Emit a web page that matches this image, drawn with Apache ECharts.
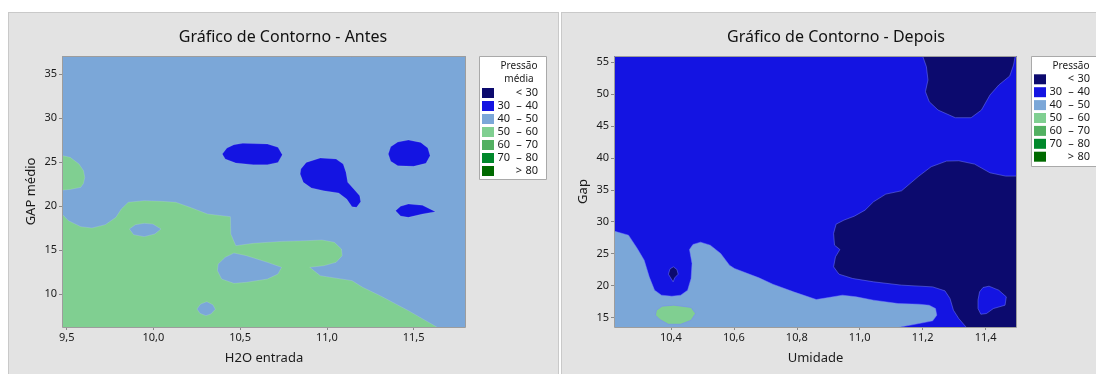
<!DOCTYPE html>
<html>
<head>
<meta charset="utf-8">
<script src="https://cdn.jsdelivr.net/npm/echarts@6/dist/echarts.min.js"></script>
<style>
  html, body { margin: 0; padding: 0; background: #fff; }
  .painel { position: absolute; top: 12px; height: 370px; background: #e3e3e3; border: 1px solid #c9c9c9; box-sizing: border-box; }
  #grafico { position: absolute; left: 0; top: 0; width: 1096px; height: 374px; }
</style>
</head>
<body>
<div class="painel" style="left:8px;width:551px"></div>
<div class="painel" style="left:561px;width:545px"></div>
<div id="grafico"></div>
<script>
// faixas de pressão (legenda)
const legendaDe = ['', '30', '40', '50', '60', '70', '']
const legendaSimb = ['<', '–', '–', '–', '–', '–', '>']
const legendaAte = ['30', '40', '50', '60', '70', '80', '80']
const coresNivel = ['#0c0a6e', '#1414e2', '#7ba7d8', '#80cf91', '#52b061', '#00882b', '#006a00']

// eixos
const xTicksAntes = [9.5, 10.0, 10.5, 11.0, 11.5]
const yTicksAntes = [10, 15, 20, 25, 30, 35]
const xTicksDepois = [10.4, 10.6, 10.8, 11.0, 11.2, 11.4]
const yTicksDepois = [15, 20, 25, 30, 35, 40, 45, 50, 55]

// ---- Antes: fundo 40-50 ----
const antesVerdeBase = [
  [9.45, 19.55], [9.510, 18.33], [9.581, 17.65], [9.646, 17.50], [9.723, 17.88], [9.784, 18.71],
  [9.815, 19.66], [9.855, 20.42], [9.947, 20.61], [10.048, 20.53], [10.129, 20.42], [10.211, 19.85],
  [10.312, 19.09], [10.444, 18.79], [10.446, 16.82], [10.475, 15.49], [10.576, 15.76], [10.739, 15.98],
  [10.881, 16.06], [10.972, 16.14], [11.043, 15.87], [11.084, 15.11], [11.088, 14.36], [11.053, 13.60],
  [10.982, 13.22], [10.901, 13.03], [10.962, 12.08], [11.145, 11.52], [11.206, 10.76], [11.307, 9.81],
  [11.470, 8.11], [11.655, 6.0], [9.45, 6.0]
]
const antesVerdeTopo = [
  [9.45, 25.83], [9.520, 25.53], [9.571, 24.77], [9.597, 24.02], [9.604, 23.26], [9.597, 22.58],
  [9.581, 22.12], [9.520, 21.89], [9.45, 21.74]
]
const antesOvalA = [
  [10.373, 13.41], [10.414, 14.17], [10.464, 14.66], [10.536, 14.36], [10.657, 13.60], [10.739, 13.03],
  [10.718, 12.27], [10.657, 11.70], [10.536, 11.33], [10.464, 11.21], [10.393, 11.70], [10.369, 12.65]
]
const antesOvalB = [
  [9.861, 17.39], [9.896, 17.88], [9.947, 18.03], [9.997, 17.95], [10.044, 17.39], [10.008, 16.82],
  [9.947, 16.52], [9.886, 16.74]
]
const antesOvalC = [
  [10.251, 8.30], [10.272, 8.86], [10.308, 9.13], [10.343, 8.77], [10.357, 8.26], [10.332, 7.73],
  [10.302, 7.54], [10.268, 7.80]
]
const antesAzul1 = [
  [10.397, 25.91], [10.424, 26.59], [10.464, 26.97], [10.515, 27.12], [10.657, 27.05], [10.718, 26.67],
  [10.743, 25.83], [10.718, 24.96], [10.657, 24.70], [10.576, 24.70], [10.475, 24.89], [10.414, 25.34]
]
const antesAzul2 = [
  [10.850, 24.20], [10.881, 24.96], [10.962, 25.45], [11.053, 25.34], [11.094, 24.77], [11.110, 23.83],
  [11.120, 22.69], [11.155, 21.93], [11.189, 21.17], [11.195, 20.49], [11.171, 19.85], [11.145, 19.92],
  [11.114, 20.80], [11.068, 21.48], [10.982, 21.74], [10.911, 22.05], [10.864, 22.69], [10.846, 23.64]
]
const antesAzul3 = [
  [11.354, 25.91], [11.368, 26.74], [11.409, 27.27], [11.470, 27.50], [11.541, 27.23], [11.582, 26.59],
  [11.595, 25.72], [11.571, 24.85], [11.500, 24.51], [11.409, 24.58], [11.368, 25.08]
]
const antesAzul4 = [
  [11.396, 19.47], [11.425, 19.96], [11.470, 20.23], [11.551, 20.08], [11.626, 19.36], [11.551, 19.09],
  [11.470, 18.71], [11.425, 18.86]
]
const antesAzul5 = [[11.12, 37.2], [11.16, 37.2], [11.14, 36.9]]

// ---- Depois: fundo 30-40 ----
const depoisEscuroTopo = [
  [11.199, 56.1], [11.212, 54.27], [11.217, 52.18], [11.209, 50.35], [11.221, 48.79], [11.249, 47.48],
  [11.304, 46.28], [11.354, 46.28], [11.387, 47.48], [11.414, 49.83], [11.442, 51.40], [11.477, 52.81],
  [11.489, 54.53], [11.495, 56.1]
]
const depoisEscuroBase = [
  [11.52, 37.14], [11.464, 37.14], [11.414, 37.66], [11.365, 39.02], [11.315, 39.54], [11.276, 39.49],
  [11.227, 38.60], [11.188, 37.14], [11.133, 34.84], [11.083, 34.32], [11.044, 33.12], [11.017, 31.81],
  [10.983, 30.87], [10.950, 30.25], [10.925, 29.62], [10.917, 28.16], [10.920, 26.33], [10.937, 25.65],
  [10.923, 24.50], [10.917, 22.94], [10.934, 21.79], [10.978, 21.11], [11.044, 20.59], [11.133, 20.07],
  [11.232, 19.80], [11.271, 19.18], [11.287, 17.98], [11.298, 16.15], [11.315, 14.84], [11.34, 13.4],
  [11.52, 13.4]
]
const depoisAzulIlha = [
  [11.376, 17.72], [11.381, 19.02], [11.392, 19.70], [11.411, 19.91], [11.442, 19.28], [11.466, 18.24],
  [11.462, 16.93], [11.425, 16.41], [11.403, 15.63], [11.385, 15.52], [11.376, 16.41]
]
const depoisClaro = [
  [10.2, 28.79], [10.265, 27.90], [10.293, 25.81], [10.315, 23.98], [10.331, 21.37], [10.348, 19.28],
  [10.370, 18.50], [10.403, 18.34], [10.431, 18.50], [10.453, 19.28], [10.464, 21.11], [10.467, 23.46],
  [10.459, 25.65], [10.470, 26.44], [10.494, 26.80], [10.525, 26.33], [10.558, 25.03], [10.586, 23.20],
  [10.602, 22.68], [10.680, 21.21], [10.724, 20.22], [10.790, 19.02], [10.862, 17.82], [10.901, 18.13],
  [10.945, 18.50], [10.989, 18.24], [11.044, 17.72], [11.122, 17.19], [11.188, 17.09], [11.221, 16.93],
  [11.241, 16.41], [11.245, 15.37], [11.232, 14.48], [11.188, 14.06], [11.133, 13.54], [11.12, 13.4],
  [10.2, 13.4]
]
const depoisEscuroPonto = [
  [10.392, 21.79], [10.397, 22.62], [10.408, 22.94], [10.419, 22.52], [10.423, 21.79], [10.412, 21.21],
  [10.407, 20.59], [10.399, 21.21]
]
const depoisVerde = [
  [10.354, 16.15], [10.372, 16.77], [10.409, 16.93], [10.464, 16.57], [10.478, 15.63], [10.464, 14.58],
  [10.431, 13.96], [10.392, 13.96], [10.365, 14.69], [10.351, 15.37]
]

// nível de cada região (índice em coresNivel)
const regioesAntes = [
  [3, antesVerdeBase], [3, antesVerdeTopo], [2, antesOvalA], [2, antesOvalB], [2, antesOvalC],
  [1, antesAzul1], [1, antesAzul2], [1, antesAzul3], [1, antesAzul4], [1, antesAzul5]
]
const regioesDepois = [
  [0, depoisEscuroTopo], [0, depoisEscuroBase], [1, depoisAzulIlha], [2, depoisClaro],
  [0, depoisEscuroPonto], [3, depoisVerde]
]

const fonte = '"Noto Sans", "Open Sans", sans-serif'
const grades = [
  { left: 62, top: 56, width: 404, height: 271 },
  { left: 614, top: 56, width: 403, height: 271 }
]

const chart = echarts.init(document.getElementById('grafico'))

const virgula = v => v.toFixed(1).replace('.', ',')

const eixoX = (idx, min, max, ticks, nome) => ({
  type: 'value', gridIndex: idx, min: min, max: max,
  name: nome, nameLocation: 'middle', nameGap: 25,
  nameTextStyle: { fontFamily: fonte, fontSize: 13, color: '#1a1a1a' },
  axisLine: { show: false },
  axisTick: { show: true, length: 3, customValues: ticks, lineStyle: { color: '#8a8a8a' } },
  axisLabel: { customValues: ticks, formatter: virgula, margin: 5, fontFamily: fonte, fontSize: 11, color: '#1a1a1a' },
  splitLine: { show: false }
})

const eixoY = (idx, min, max, ticks, nome) => ({
  type: 'value', gridIndex: idx, min: min, max: max,
  name: nome, nameLocation: 'middle', nameGap: 24, nameRotate: 90,
  nameTextStyle: { fontFamily: fonte, fontSize: 13, color: '#1a1a1a' },
  axisLine: { show: false },
  axisTick: { show: true, length: 3, customValues: ticks, lineStyle: { color: '#8a8a8a' } },
  axisLabel: { customValues: ticks, margin: 5, fontFamily: fonte, fontSize: 11, color: '#1a1a1a' },
  splitLine: { show: false }
})

const contorno = (idx, regioes, contornoCor) => ({
  type: 'custom',
  xAxisIndex: idx,
  yAxisIndex: idx,
  clip: true,
  silent: true,
  data: regioes.map((r, i) => [i]),
  encode: { x: -1, y: -1 },
  renderItem: (params, api) => {
    const r = regioes[params.dataIndex]
    return {
      type: 'polygon',
      z2: params.dataIndex,
      shape: { points: r[1].map(p => api.coord(p)) },
      style: { fill: coresNivel[r[0]], stroke: contornoCor, lineWidth: 0.8 }
    }
  }
})

// legenda desenhada como na figura original
const legenda = (x, y, w, h, cabecalho, cx, y0, passo) => {
  const els = [{
    type: 'rect', shape: { x: x + 0.5, y: y + 0.5, width: w, height: h },
    style: { fill: '#fff', stroke: '#a9a9a9', lineWidth: 1 }
  }]
  cabecalho.forEach((t, i) => els.push({
    type: 'text', x: cx, y: y + 10 + i * 13,
    style: { text: t, fontFamily: fonte, fontSize: 10, fill: '#1a1a1a', align: 'center', verticalAlign: 'middle' }
  }))
  coresNivel.forEach((c, i) => {
    const yy = y0 + i * passo
    els.push({ type: 'rect', shape: { x: x + 3, y: yy - 5, width: 12, height: 10 }, style: { fill: c } })
    const base = { fontFamily: fonte, fontSize: 11, fill: '#1a1a1a', verticalAlign: 'middle' }
    els.push({ type: 'text', x: x + 31, y: yy, style: Object.assign({ text: legendaDe[i], align: 'right' }, base) })
    els.push({ type: 'text', x: x + 40, y: yy, style: Object.assign({ text: legendaSimb[i], align: 'center' }, base) })
    els.push({ type: 'text', x: x + 59, y: yy, style: Object.assign({ text: legendaAte[i], align: 'right' }, base) })
  })
  return els
}

const titulo = (x, t) => ({
  type: 'text', x: x, y: 37,
  style: { text: t, fontFamily: fonte, fontSize: 16, fill: '#111', align: 'center', verticalAlign: 'middle' }
})

const moldura = g => ({
  type: 'rect', z: 100, silent: true,
  shape: { x: g.left + 0.5, y: g.top + 0.5, width: g.width - 1, height: g.height },
  style: { fill: 'none', stroke: '#9d9d9d', lineWidth: 1 }
})

chart.setOption({
  backgroundColor: 'transparent',
  animation: false,
  grid: [
    Object.assign({ show: true, backgroundColor: coresNivel[2], borderWidth: 0 }, grades[0]),
    Object.assign({ show: true, backgroundColor: coresNivel[1], borderWidth: 0 }, grades[1])
  ],
  xAxis: [
    eixoX(0, 9.473, 11.802, xTicksAntes, 'H2O entrada'),
    eixoX(1, 10.219, 11.5, xTicksDepois, 'Umidade')
  ],
  yAxis: [
    eixoY(0, 6.25, 37.05, yTicksAntes, 'GAP médio'),
    eixoY(1, 13.52, 55.94, yTicksDepois, 'Gap')
  ],
  series: [
    contorno(0, regioesAntes, 'rgba(255,255,255,0.15)'),
    contorno(1, regioesDepois, 'rgba(120,130,255,0.6)')
  ],
  graphic: [
    titulo(283, 'Gráfico de Contorno - Antes'),
    titulo(836, 'Gráfico de Contorno - Depois'),
    moldura(grades[0]),
    moldura(grades[1]),
    ...legenda(479, 56, 67, 123, ['Pressão', 'média'], 519, 93, 13),
    ...legenda(1031, 56, 70, 110, ['Pressão'], 1071, 79.3, 12.9)
  ]
})
</script>
</body>
</html>
